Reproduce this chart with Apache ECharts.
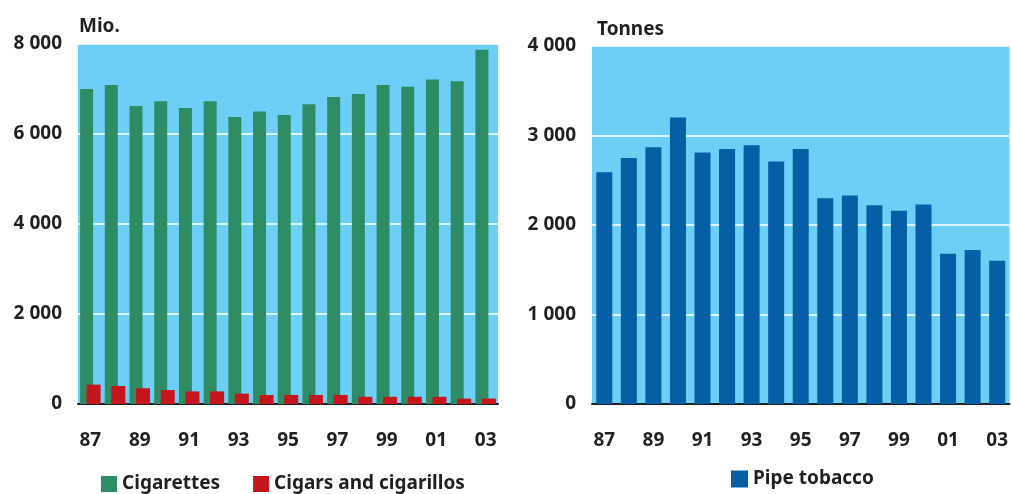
<!DOCTYPE html>
<html>
<head>
<meta charset="utf-8">
<script src="https://cdn.jsdelivr.net/npm/echarts@6/dist/echarts.min.js"></script>
<style>
html,body{margin:0;padding:0;background:#fff;}
#c{width:1011px;height:494px;}
</style>
</head>
<body>
<div id="c"></div>
<script>
const years = ['87','88','89','90','91','92','93','94','95','96','97','98','99','00','01','02','03'];
const cigarettes = [7000,7090,6620,6730,6580,6730,6380,6500,6420,6660,6820,6890,7090,7050,7210,7170,7870];
const cigars = [430,400,350,310,280,280,230,200,200,200,200,160,160,160,160,120,120];
const pipeTobacco = [2590,2750,2870,3200,2810,2850,2890,2710,2850,2300,2330,2220,2160,2230,1680,1720,1600];
const leftTicks = {min:0, max:8000, interval:2000};
const rightTicks = {min:0, max:4000, interval:1000};

const FONT = '"Noto Sans", "Open Sans", sans-serif';
const TXT = '#231f20';
const fmt = v => { const s = String(v); return s.length > 3 ? s.slice(0, s.length-3) + ' ' + s.slice(-3) : s; };

const chart = echarts.init(document.getElementById('c'), null, {renderer:'canvas'});

function xAx(gi){
  return {
    type:'category', gridIndex:gi, data:years,
    axisTick:{show:false},
    axisLine:{show:true, lineStyle:{color:TXT, width:2}},
    axisLabel:{interval:1, margin:27, color:TXT, fontFamily:FONT, fontWeight:'bold', fontSize:19}
  };
}
function yAx(gi, t){
  return {
    type:'value', gridIndex:gi, min:t.min, max:t.max, interval:t.interval,
    axisLine:{show:false}, axisTick:{show:false},
    splitLine:{show:true, lineStyle:{color:'#ffffff', width:1.5}},
    axisLabel:{margin:16, color:TXT, fontFamily:FONT, fontWeight:'bold', fontSize:19, formatter:fmt}
  };
}
const legendText = {color:TXT, fontFamily:FONT, fontWeight:'bold', fontSize:19, lineHeight:20};

chart.setOption({
  animation:false,
  backgroundColor:'#ffffff',
  grid:[
    {left:78, top:44, width:420, height:360, show:true, backgroundColor:'#6dcff6', borderWidth:0},
    {left:592, top:46, width:419, height:358, show:true, backgroundColor:'#6dcff6', borderWidth:0}
  ],
  xAxis:[xAx(0), xAx(1)],
  yAxis:[yAx(0, leftTicks), yAx(1, rightTicks)],
  graphic:[
    {type:'text', left:79, top:17, style:{text:'Mio.', fill:TXT, font:'bold 19px ' + FONT}},
    {type:'text', left:597, top:20, style:{text:'Tonnes', fill:TXT, font:'bold 19px ' + FONT}}
  ],
  legend:[
    {left:101, top:474, padding:0, itemWidth:16, itemHeight:16, itemGap:33, icon:'rect',
     textStyle:legendText, data:['Cigarettes','Cigars and cigarillos']},
    {left:731, top:469, padding:0, itemWidth:17, itemHeight:17, icon:'rect',
     textStyle:legendText, data:['Pipe tobacco']}
  ],
  series:[
    {name:'Cigarettes', type:'bar', xAxisIndex:0, yAxisIndex:0, data:cigarettes,
     barWidth:13, barGap:'-50%', itemStyle:{color:'#2e8c64'}},
    {name:'Cigars and cigarillos', type:'bar', xAxisIndex:0, yAxisIndex:0, data:cigars,
     barWidth:14, barGap:'-50%', itemStyle:{color:'#c4161c'}},
    {name:'Pipe tobacco', type:'bar', xAxisIndex:1, yAxisIndex:1, data:pipeTobacco,
     barWidth:16, itemStyle:{color:'#065ea5'}}
  ]
});
</script>
</body>
</html>
